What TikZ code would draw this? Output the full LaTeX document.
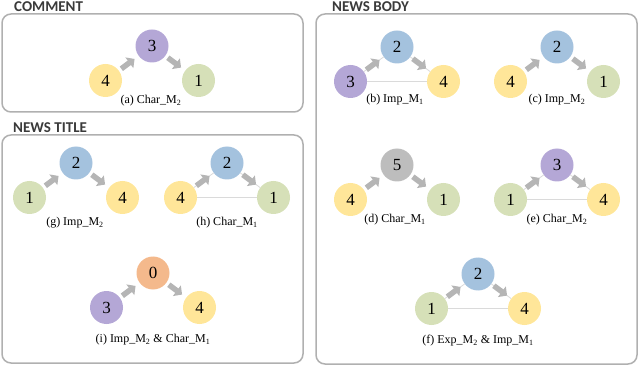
\documentclass[tikz,border=0pt]{standalone}
\usepackage{fontspec}
\setmainfont{Liberation Serif}
\newfontfamily\headfont{Carlito}
\usepackage{xcolor}
\usepackage{tikz}
\usetikzlibrary{arrows.meta,positioning}
\definecolor{NodeYellow}{HTML}{FFE699}
\definecolor{NodeGreen}{HTML}{D6E0B8}
\definecolor{NodePurple}{HTML}{B4A7D6}
\definecolor{NodeBlue}{HTML}{A4C2DE}
\definecolor{NodeGray}{HTML}{BDBDBD}
\definecolor{NodeOrange}{HTML}{F4B98C}
\definecolor{ArrowGray}{HTML}{B5B5B5}
\definecolor{LineGray}{HTML}{DADADA}
\definecolor{FrameGray}{HTML}{B0B0B0}
\definecolor{HeadText}{HTML}{3A3A3A}

\begin{document}
\begin{tikzpicture}[
  x=1pt, y=-1pt,
  node distance=34.5pt and 46.5pt, on grid,
  motif/.style={circle, minimum size=33pt, inner sep=0pt, font=\fontsize{17}{17}\selectfont},
  yel/.style={motif, fill=NodeYellow},
  grn/.style={motif, fill=NodeGreen},
  pur/.style={motif, fill=NodePurple},
  blu/.style={motif, fill=NodeBlue},
  gry/.style={motif, fill=NodeGray},
  org/.style={motif, fill=NodeOrange},
  caption/.style={font=\fontsize{12}{12}\selectfont},
  head/.style={anchor=west, inner sep=0pt, text=HeadText, font=\headfont\bfseries\fontsize{15}{15}\selectfont},
  panel/.style={draw=FrameGray, line width=1.5pt, rounded corners=9pt},
  flow/.style={draw=ArrowGray, line width=5.5pt, -{Triangle[length=6.5pt,width=13pt]}, shorten <=3pt, shorten >=5pt},
  link/.style={draw=LineGray, line width=0.8pt}
]
\useasboundingbox (0,0) rectangle (640,366);

% section frames
\draw[panel] (2,14) rectangle (303,112);
\draw[panel] (2,135) rectangle (303,363);
\draw[panel] (316,14) rectangle (637,364);
\node[head] (hcomment) at (14,7) {COMMENT};
\node[head] (htitle) at (13,127.5) {NEWS TITLE};
\node[head] (hbody) at (332,7) {NEWS BODY};

% (a)
\node[pur] (a3) at (152,46) {3};
\node[yel, below left=of a3] (a4) {4};
\node[grn, below right=of a3] (a1) {1};
\node[caption] (capa) at (151,101) {(a) Char\_M\textsubscript{2}};
\draw[flow] (a4) -- (a3);
\draw[flow] (a3) -- (a1);

% (b)
\node[blu] (b2) at (397,47) {2};
\node[pur, below left=of b2] (b3) {3};
\node[yel, below right=of b2] (b4) {4};
\node[caption] (capb) at (395,100) {(b) Imp\_M\textsubscript{1}};
\draw[link] (b3) -- (b2);
\draw[link] (b2) -- (b4);
\draw[link] (b3) -- (b4);
\draw[flow] (b3) -- (b2);
\draw[flow] (b2) -- (b4);

% (c)
\node[blu] (c2) at (557,47) {2};
\node[yel, below left=of c2] (c4) {4};
\node[grn, below right=of c2] (c1) {1};
\node[caption] (capc) at (557,100) {(c) Imp\_M\textsubscript{2}};
\draw[flow] (c4) -- (c2);
\draw[flow] (c2) -- (c1);

% (d)
\node[gry] (d5) at (397,165) {5};
\node[yel, below left=of d5] (d4) {4};
\node[grn, below right=of d5] (d1) {1};
\node[caption] (capd) at (395,220) {(d) Char\_M\textsubscript{1}};
\draw[flow] (d4) -- (d5);
\draw[flow] (d5) -- (d1);

% (e)
\node[pur] (e3) at (557,165) {3};
\node[grn, below left=of e3] (e1) {1};
\node[yel, below right=of e3] (e4) {4};
\node[caption] (cape) at (557,220) {(e) Char\_M\textsubscript{2}};
\draw[link] (e1) -- (e3);
\draw[link] (e3) -- (e4);
\draw[link] (e1) -- (e4);
\draw[flow] (e1) -- (e3);
\draw[flow] (e3) -- (e4);

% (f)
\node[blu] (f2) at (478,274) {2};
\node[grn, below left=of f2] (f1) {1};
\node[yel, below right=of f2] (f4) {4};
\node[caption] (capf) at (478,341) {(f) Exp\_M\textsubscript{2} \& Imp\_M\textsubscript{1}};
\draw[link] (f1) -- (f2);
\draw[link] (f2) -- (f4);
\draw[link] (f1) -- (f4);
\draw[flow] (f1) -- (f2);
\draw[flow] (f2) -- (f4);

% (g)
\node[blu] (g2) at (76,163) {2};
\node[grn, below left=of g2] (g1) {1};
\node[yel, below right=of g2] (g4) {4};
\node[caption] (capg) at (75,223) {(g) Imp\_M\textsubscript{2}};
\draw[flow] (g1) -- (g2);
\draw[flow] (g2) -- (g4);

% (h)
\node[blu] (h2) at (227,163) {2};
\node[yel, below left=of h2] (h4) {4};
\node[grn, below right=of h2] (h1) {1};
\node[caption] (caph) at (227,223) {(h) Char\_M\textsubscript{1}};
\draw[link] (h4) -- (h2);
\draw[link] (h2) -- (h1);
\draw[link] (h4) -- (h1);
\draw[flow] (h4) -- (h2);
\draw[flow] (h2) -- (h1);

% (i)
\node[org] (i0) at (153,273) {0};
\node[pur, below left=of i0] (i3) {3};
\node[yel, below right=of i0] (i4) {4};
\node[caption] (capi) at (153,340) {(i) Imp\_M\textsubscript{2} \& Char\_M\textsubscript{1}};
\draw[flow] (i3) -- (i0);
\draw[flow] (i0) -- (i4);
\end{tikzpicture}
\end{document}
